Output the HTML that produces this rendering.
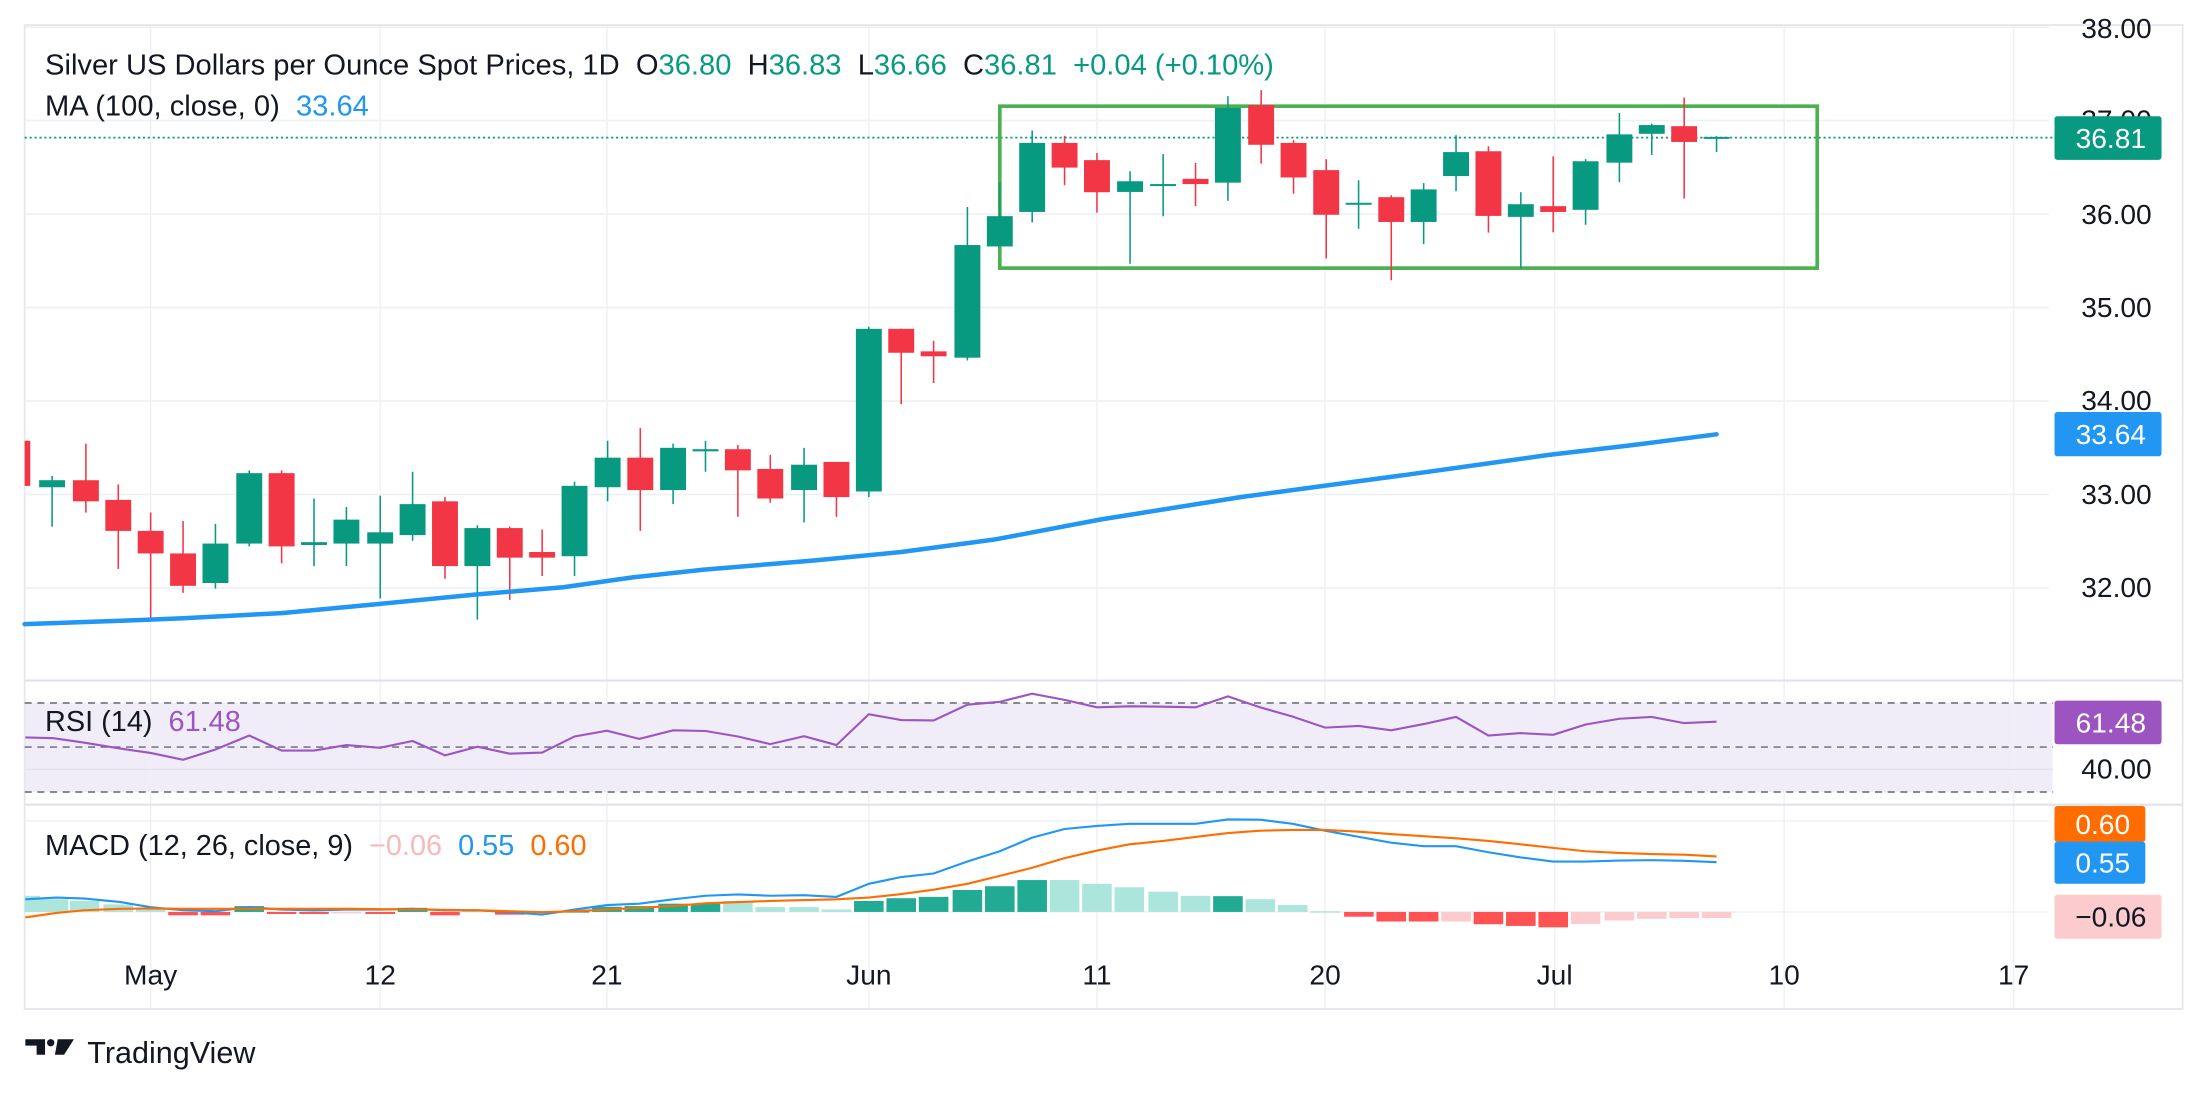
<!DOCTYPE html>
<html><head><meta charset="utf-8"><style>
html,body{margin:0;padding:0;background:#fff;}
svg{display:block;font-family:"Liberation Sans",sans-serif;}
</style></head><body>
<svg id="c" width="2208" height="1097" viewBox="0 0 1568 779" xmlns="http://www.w3.org/2000/svg"></svg>
<script>
const S=document.getElementById('c');let h='';
const G='#089981',R='#f23645';
const py=p=>152-(p-36)*66.4;
const zy=z=>397.7+z/4.11;
h+='<rect x="0" y="0" width="1568" height="779" fill="#fff"/>';
h+='<rect x="17.5" y="499.2" width="1440" height="63.2" fill="#f0ecf8"/>';
[107,270,431,617,779,941,1104,1267,1430].forEach(x=>h+=`<line x1="${x}" y1="18" x2="${x}" y2="716" stroke="#eef0f4" stroke-width="1"/>`);
[38,37,36,35,34,33,32].forEach(p=>h+=`<line x1="17.5" y1="${py(p)}" x2="1455" y2="${py(p)}" stroke="#eef0f4" stroke-width="1.2"/>`);
h+='<line x1="17.5" y1="546.4" x2="1458" y2="546.4" stroke="#e4e0ef" stroke-width="1"/>';
h+='<line x1="17.5" y1="583" x2="1455" y2="583" stroke="#eef0f4" stroke-width="1"/>';
h+='<line x1="17.5" y1="647.6" x2="1455" y2="647.6" stroke="#eef0f4" stroke-width="1"/>';
h+='<path d="M17.5 17.8 H1550 V716.5 H17.5 Z" fill="none" stroke="#e6e8ee" stroke-width="1.3"/>';
h+='<line x1="17.5" y1="483.3" x2="1550" y2="483.3" stroke="#e0e3eb" stroke-width="1.5"/>';
h+='<line x1="17.5" y1="571.4" x2="1550" y2="571.4" stroke="#e0e3eb" stroke-width="1.5"/>';
[499.2,530.5,562.4].forEach(y=>h+=`<line x1="17.5" y1="${y}" x2="1458" y2="${y}" stroke="#787b86" stroke-width="1.2" stroke-dasharray="5,4"/>`);
h+='<line x1="17.5" y1="97.7" x2="1458" y2="97.7" stroke="#089981" stroke-width="1.2" stroke-dasharray="1.5,2"/>';
h+='<rect x="710" y="75.4" width="580.5" height="115" fill="none" stroke="#4caf50" stroke-width="2.6"/>';
const C=[
[19,313,345,313,345,R],
[37,341,346,338,374,G],[61,341,356,315,364,R],[84,355,377,344,404,R],[107,377,393,364,439,R],
[130,393,416,370,421,R],[153,386,414,372,418,G],[177,336,386,334,388,G],[200,336,388,334,400,R],
[223,385,387,354,402,G],[246,369,386,360,402,G],[270,378,386,352,425,G],[293,358,380,335,384,G],
[316,356,402,353,411,R],[339,375,402,373,440,G],[362,375,396,374,426,R],[385,392,396,376,409,R],
[408,345,395,342,409,G],[431.5,325,346,313,356,G],[454.7,325,348,304,377,R],[478,318,348,315,358,G],
[501,319,320.5,313,335,G],[524,319,334,316,367,R],[547,333,354,323,357,R],[571,330,348,318,371,G],
[594,328,353,328,367,R],[617,233.5,349,232,353,G],[640,233.5,250.5,233.5,287,R],[663,249.5,253,242,272,R],
[687,174,254,147,256,G],[710,153.5,175,129.5,175,G],[733,101.5,150.5,92.6,158,G],[756,101.5,119,96.5,131.5,R],
[779,113.7,136.5,108.6,151,R],[802.5,128.7,136.3,121.6,187.3,G],[826,130.7,131.9,109.4,153.6,G],
[849,127,130.7,115.7,146.4,R],[872,76.6,129.7,68.3,142.6,G],[895.6,74.6,102.8,64,116.2,R],
[918.6,101.5,126,99.5,137.6,R],[941.8,120.8,152.5,113,183.5,R],[964.8,144,145.2,128,162.4,G],
[988,140,157.6,138.6,199,R],[1011,134.5,157.6,130,173.3,G],[1034,108,125,96,135.8,G],
[1057,107.4,153.3,103.8,165.2,R],[1080,145,154,136.5,190.6,G],[1103,146.4,150.5,111,165,R],
[1126,114.5,149,113,159.6,G],[1150,95.4,115.5,80.2,129.4,G],[1173,88.8,95,87.8,110,G],
[1196,89.6,100.8,69.3,141,R],[1219,97.2,98.6,96.7,108,G]];
C.forEach(c=>{const[x,bt,bb,wt,wb,col]=c;
h+=`<line x1="${x}" y1="${wt}" x2="${x}" y2="${wb}" stroke="${col}" stroke-width="1.1"/>`;
const w=x<30?4:18.4, xx=x<30?17.5:x-9.2;
h+=`<rect x="${xx}" y="${bt}" width="${w}" height="${Math.max(bb-bt,1.4)}" fill="${col}"/>`;});
const MA=[[17.5,443.2],[100,440.3],[130,439],[200,435.4],[270,428.8],[340,422],[400,417],[450,409.9],[500,404.5],[578,398],[640,392],[707,383],[781,369],[881,353],[940,345],[1000,337],[1050,330],[1100,323],[1160,316],[1219,308.4]];
h+=`<polyline points="${MA.map(p=>p.join(',')).join(' ')}" fill="none" stroke="#2196f3" stroke-width="3.2" stroke-linejoin="round" stroke-linecap="round"/>`;
const RS=[[18,518],[38,520],[60,533],[85,550],[107,563],[130,583],[153,553],[177,512],[200,556],[223,556],[246,540],[270,548],[293,528],[316,570],[339,545],[362,565],[385,562],[408,515],[431,498],[454,522],[478,497],[501,499],[524,515],[547,537],[571,514],[594,540],[617,450],[640,467],[663,468],[687,422],[710,414],[733,390],[756,408],[779,430],[802,427],[826,428],[849,430],[872,398],[895,430],[918,457],[941,489],[965,484],[988,497],[1011,479],[1034,458],[1057,512],[1080,505],[1103,510],[1126,480],[1150,463],[1173,458],[1196,476],[1219,472]];
h+=`<polyline points="${RS.map(p=>p[0]+','+zy(p[1]).toFixed(1)).join(' ')}" fill="none" stroke="#9c55c2" stroke-width="1.5"/>`;
const HI=[[18,980,'L'],[38,990,'L'],[60,995,'L'],[84,1005,'L'],[107,1015,'L'],[130,1037,'R'],[153,1037,'R'],[177,1010,'G'],[200,1033,'R'],[223,1033,'R'],[246,1030,'P'],[270,1033,'R'],[293,1015,'G'],[316,1037,'R'],[339,1022,'L'],[362,1035,'R'],[385,1033,'P'],[408,1025,'G'],[431,1012,'G'],[454,1010,'G'],[478,1003,'G'],[501,1003,'G'],[524,995,'L'],[547,1013,'L'],[571,1013,'L'],[594,1020,'L'],[617,995,'G'],[640,987,'G'],[663,983,'G'],[687,963,'G'],[710,952,'G'],[733,934,'G'],[756,934,'L'],[779,945,'L'],[802,955,'L'],[826,968,'L'],[849,980,'L'],[872,981,'G'],[895,990,'L'],[918,1007,'L'],[941,1025,'L'],[965,1041,'R'],[988,1055,'R'],[1011,1055,'R'],[1034,1055,'P'],[1057,1063,'R'],[1080,1068,'R'],[1103,1072,'R'],[1126,1062,'P'],[1150,1052,'P'],[1173,1047,'P'],[1196,1045,'P'],[1219,1045,'P']];
const HC={L:'#ace5dc',G:'#22ab94',R:'#ff5252',P:'#fccbcd'};
const z0=647.6;
HI.forEach(b=>{const y=zy(b[1]);const x0=Math.max(17.5,b[0]-10.5);const w=b[0]-10.5<17.5?b[0]+10.5-17.5:21;
const t=Math.min(y,z0),hh=Math.max(Math.abs(y-z0),1);h+=`<rect x="${x0}" y="${t}" width="${w}" height="${hh}" fill="${HC[b[2]]}"/>`;});
const MB=[[18,990],[40,985],[60,988],[85,998],[107,1013],[130,1022],[153,1025],[177,1013],[200,1020],[223,1022],[246,1020],[270,1020],[293,1018],[316,1022],[339,1022],[362,1028],[385,1035],[408,1020],[431,1007],[454,1003],[478,990],[501,980],[524,976],[547,980],[571,978],[594,983],[617,945],[640,925],[663,915],[687,880],[710,850],[733,810],[756,785],[779,776],[802,770],[826,770],[849,770],[872,757],[895,758],[918,770],[941,790],[965,808],[988,825],[1011,835],[1034,835],[1057,853],[1080,868],[1103,880],[1126,880],[1150,877],[1173,876],[1196,878],[1219,882]];
const MO=[[18,1043],[40,1030],[60,1022],[85,1018],[107,1017],[130,1018],[177,1018],[250,1018],[300,1020],[340,1022],[385,1028],[408,1025],[431,1020],[478,1010],[501,1002],[547,995],[594,990],[617,985],[640,975],[663,962],[687,945],[710,922],[733,898],[756,870],[779,848],[802,830],[826,820],[849,808],[872,797],[895,790],[918,788],[941,788],[965,793],[988,800],[1011,806],[1034,812],[1057,820],[1080,830],[1103,840],[1126,850],[1150,855],[1173,858],[1196,860],[1219,865]];
h+=`<polyline points="${MB.map(p=>p[0]+','+zy(p[1]).toFixed(1)).join(' ')}" fill="none" stroke="#2196f3" stroke-width="1.5"/>`;
h+=`<polyline points="${MO.map(p=>p[0]+','+zy(p[1]).toFixed(1)).join(' ')}" fill="none" stroke="#ff6d00" stroke-width="1.5"/>`;
const T='#131722';
[[38,27],[36,159],[35,225],[34,291],[33,358],[32,424]].forEach(a=>h+=`<text x="1478" y="${a[1]}" font-size="20" fill="${T}">${a[0]}.00</text>`);
h+=`<text x="1478" y="92" font-size="20" fill="${T}">37.00</text>`;
h+=`<text x="1478" y="553" font-size="20" fill="${T}">40.00</text>`;
const box=(x,y,w,hh,col,txt,tc)=>{h+=`<rect x="${x}" y="${y}" width="${w}" height="${hh}" rx="2" fill="${col}"/><text x="${x+w/2+2}" y="${y+hh/2+7}" font-size="20" fill="${tc}" text-anchor="middle">${txt}</text>`;};
box(1459,82.5,76,31,G,'36.81','#fff');
box(1459,292.6,76,31.4,'#2196f3','33.64','#fff');
box(1459,497.5,76,31,'#9c54c0','61.48','#fff');
box(1459,572.4,64.5,25.5,'#ff6d00','0.60','#fff');
box(1459,597.7,64.5,29.9,'#2196f3','0.55','#fff');
box(1459,635.4,76,31.2,'#fccbcd','−0.06',T);
[['May',107],['12',270],['21',431],['Jun',617],['11',779],['20',941],['Jul',1104],['10',1267],['17',1430]].forEach(d=>h+=`<text x="${d[1]}" y="699" font-size="20" fill="${T}" text-anchor="middle">${d[0]}</text>`);
h+=`<text x="32" y="53" font-size="20.7" fill="${T}">Silver US Dollars per Ounce Spot Prices, 1D&#160; O<tspan fill="${G}">36.80</tspan>&#160; H<tspan fill="${G}">36.83</tspan>&#160; L<tspan fill="${G}">36.66</tspan>&#160; C<tspan fill="${G}">36.81</tspan>&#160; <tspan fill="${G}">+0.04 (+0.10%)</tspan></text>`;
h+=`<text x="32" y="82" font-size="20.7" fill="${T}">MA (100, close, 0)&#160; <tspan fill="#2196f3">33.64</tspan></text>`;
h+=`<text x="32" y="519" font-size="20.5" fill="${T}">RSI (14)&#160; <tspan fill="#9c55c2">61.48</tspan></text>`;
h+=`<text x="32" y="607" font-size="20.5" fill="${T}">MACD (12, 26, close, 9)&#160; <tspan fill="#f7b9be">−0.06</tspan>&#160; <tspan fill="#2196f3">0.55</tspan>&#160; <tspan fill="#ff6d00">0.60</tspan></text>`;
h+=`<path d="M18 738 H32 V749 H26 V742.5 H18 Z" fill="${T}"/><circle cx="36" cy="740.5" r="2.6" fill="${T}"/><path d="M41 738 H52.5 L45.5 749 H39 Z" fill="${T}"/>`;
h+=`<text x="62" y="755" font-size="21.7" fill="${T}">TradingView</text>`;
S.innerHTML=h;
</script>
</body></html>
